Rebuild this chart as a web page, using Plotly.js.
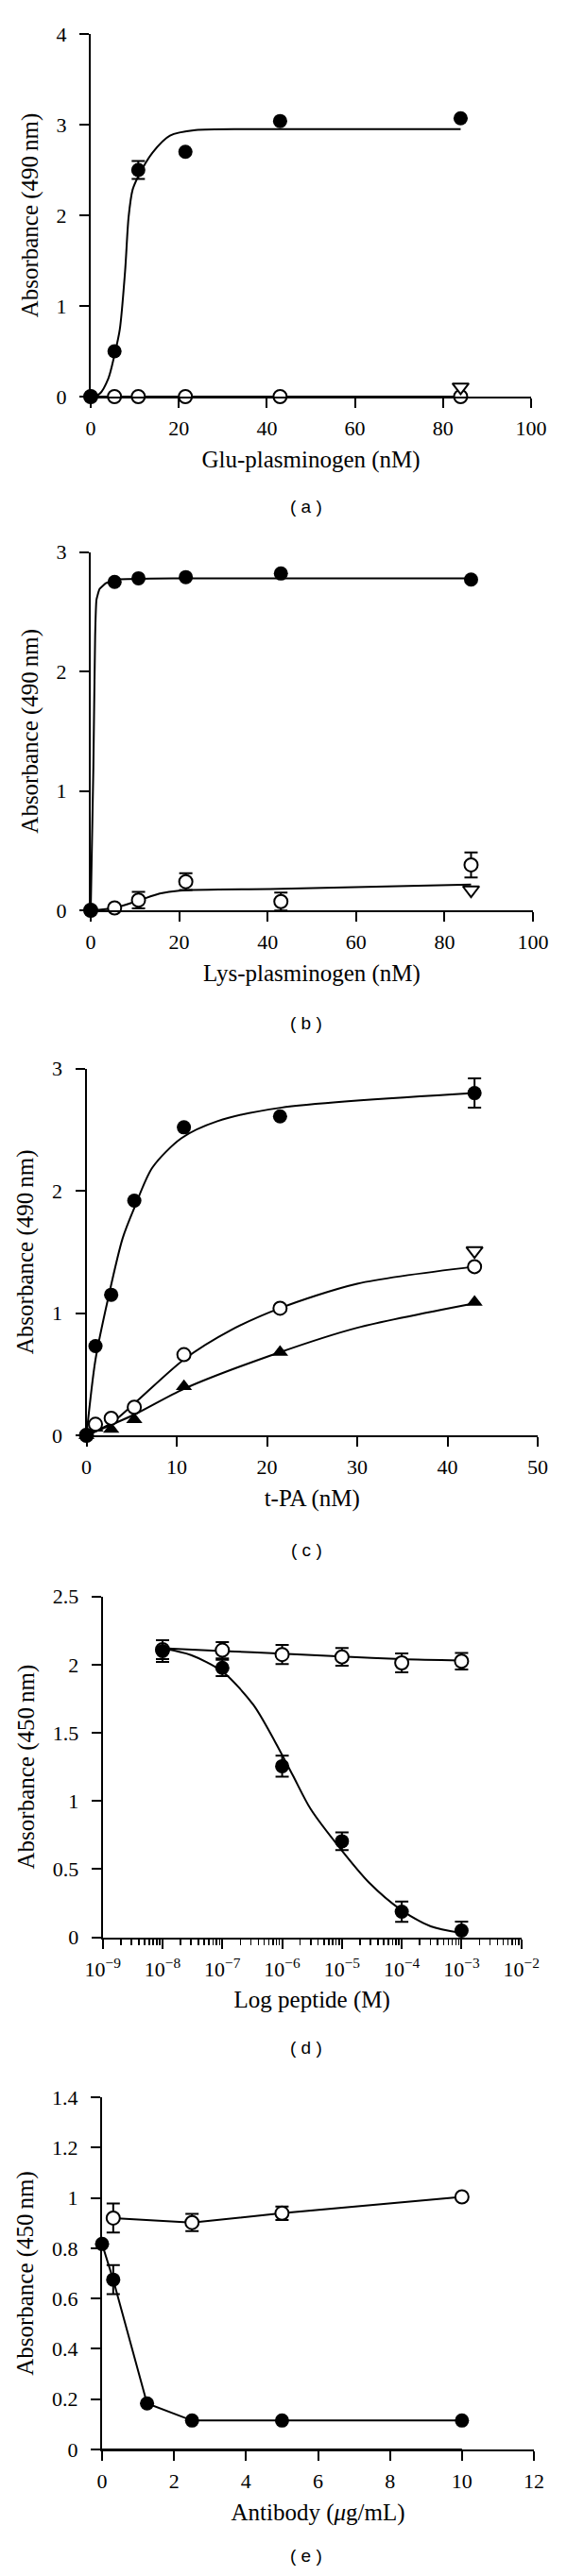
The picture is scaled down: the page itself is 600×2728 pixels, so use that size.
<!DOCTYPE html>
<html>
<head>
<meta charset="utf-8">
<script src="https://cdn.plot.ly/plotly-3.0.1.min.js"></script>
<style>
  html, body { margin: 0; padding: 0; background: #fff; }
  #chart { width: 600px; height: 2728px; }
</style>
</head>
<body>
<div id="chart"></div>
<script>
// ---------------- DATA ----------------
// Panel (a): Glu-plasminogen (nM)
const aX = [0, 5.4, 10.8, 21.5, 43, 84];
const aFilled = [0, 0.5, 2.5, 2.70, 3.04, 3.07];
const aFilledErr = [0, 0, 0.1, 0, 0, 0];
const aOpen = [0, 0, 0, 0, 0, 0];
const aTriX = [84];
const aTri = [0.105];
const aFitX = [0, 2, 4, 5.4, 6.6, 7.8, 8.6, 9.5, 10.8, 14, 18, 23.8, 40, 84];
const aFitY = [0, 0.03, 0.2, 0.46, 0.74, 1.38, 1.98, 2.28, 2.43, 2.69, 2.88, 2.94, 2.95, 2.95];

// Panel (b): Lys-plasminogen (nM)
const bX = [0, 5.4, 10.8, 21.5, 43, 86];
const bFilled = [0, 2.75, 2.78, 2.79, 2.82, 2.77];
const bOpen = [0, 0.02, 0.085, 0.24, 0.073, 0.38];
const bOpenErr = [0, 0, 0.07, 0.07, 0.075, 0.105];
const bTriX = [86];
const bTri = [0.17];
const bFitFX = [0, 0.6, 1.0, 1.3, 2, 3.5, 6, 20, 86];
const bFitFY = [0, 1.2, 2.3, 2.6, 2.69, 2.74, 2.77, 2.78, 2.78];
const bFitOX = [0, 5.4, 10.7, 15.6, 20, 43, 86];
const bFitOY = [0, 0.02, 0.08, 0.14, 0.165, 0.18, 0.215];

// Panel (c): t-PA (nM)
const cX = [0, 1.0, 2.74, 5.3, 10.8, 21.45, 43];
const cFilled = [0, 0.73, 1.15, 1.92, 2.52, 2.61, 2.80];
const cFilledErr = [0, 0, 0, 0, 0, 0, 0.12];
const cOpen = [0, 0.09, 0.14, 0.23, 0.66, 1.04, 1.38];
const cTriUp = [0, 0.06, 0.05, 0.13, 0.40, 0.68, 1.09];
const cTriDownX = [43];
const cTriDown = [1.51];
const cFitFX = [0, 1.0, 2.4, 4.0, 5.3, 7.3, 10.5, 14.5, 21.5, 43];
const cFitFY = [0, 0.62, 1.12, 1.61, 1.86, 2.19, 2.43, 2.57, 2.68, 2.80];
const cFitOX = [0, 2.74, 5.3, 10.8, 16, 21.45, 30, 43];
const cFitOY = [0, 0.1, 0.26, 0.62, 0.86, 1.04, 1.24, 1.38];
const cFitTX = [0, 5.3, 10.8, 21.45, 30, 43];
const cFitTY = [0, 0.17, 0.38, 0.68, 0.88, 1.08];

// Panel (d): Log peptide (M)
const dX = [1e-8, 1e-7, 1e-6, 1e-5, 1e-4, 1e-3];
const dFilled = [2.10, 1.976, 1.255, 0.704, 0.187, 0.049];
const dFilledErr = [0.08, 0.06, 0.077, 0.065, 0.075, 0.065];
const dOpen = [2.11, 2.106, 2.074, 2.057, 2.013, 2.025];
const dOpenErr = [0.07, 0.06, 0.07, 0.065, 0.07, 0.06];
const dFitFX = [1e-8, 3.0e-8, 1e-7, 3.3e-7, 7.6e-7, 1.5e-6, 3.0e-6, 9.5e-6, 2.85e-5, 9.5e-5, 3.05e-4, 9.5e-4];
const dFitFY = [2.12, 2.07, 1.95, 1.705, 1.435, 1.19, 0.94, 0.647, 0.40, 0.204, 0.08, 0.032];
const dFitOX = [1e-8, 1e-7, 1e-6, 1e-5, 1e-4, 1e-3];
const dFitOY = [2.12, 2.10, 2.08, 2.06, 2.04, 2.03];
const dTickVals = [1e-9, 1e-8, 1e-7, 1e-6, 1e-5, 1e-4, 1e-3, 1e-2];
const dTickText = ['10<sup>\u22129</sup>', '10<sup>\u22128</sup>', '10<sup>\u22127</sup>', '10<sup>\u22126</sup>',
                   '10<sup>\u22125</sup>', '10<sup>\u22124</sup>', '10<sup>\u22123</sup>', '10<sup>\u22122</sup>'];

// Panel (e): Antibody (ug/mL)
const eX = [0, 0.31, 1.25, 2.5, 5, 10];
const eFilled = [0.817, 0.675, 0.183, 0.115, 0.115, 0.115];
const eFilledErr = [0, 0.058, 0, 0, 0, 0];
const eOpenX = [0.31, 2.5, 5, 10];
const eOpen = [0.92, 0.902, 0.939, 1.004];
const eOpenErr = [0.058, 0.034, 0.027, 0];
const eBase = [0, 0, 0, 0, 0, 0];

// ---------------- STYLE ----------------
const W = 600, H = 2728;
const SERIF = '"Liberation Serif", "Times New Roman", serif';
const SANS = '"Liberation Sans", Arial, sans-serif';
const TICK = 22, TITLE = 25;
const filled = {symbol: 'circle', size: 15, color: '#000'};
const open = {symbol: 'circle', size: 14, color: '#fff', line: {color: '#000', width: 2}};
const triDown = {symbol: 'triangle-down', size: 15, color: '#fff', line: {color: '#000', width: 2}};
const triUp = {symbol: 'triangle-up', size: 15, color: '#000'};
const curve = {color: '#000', width: 2, shape: 'spline', smoothing: 0.8};
const straight = {color: '#000', width: 2};
function err(arr) { return {type: 'data', array: arr, visible: true, color: '#000', thickness: 2, width: 7}; }

function mk(ax, o) { return Object.assign({xaxis: 'x' + ax, yaxis: 'y' + ax, showlegend: false, cliponaxis: false, hoverinfo: 'skip'}, o); }

const traces = [
  // (a)
  mk('', {x: aFitX, y: aFitY, mode: 'lines', line: curve}),
  mk('', {x: aX, y: aOpen, mode: 'lines+markers', line: straight, marker: open}),
  mk('', {x: aX, y: aFilled, mode: 'markers', marker: filled, error_y: err(aFilledErr)}),
  mk('', {x: aTriX, y: aTri, mode: 'markers', marker: triDown}),
  // (b)
  mk('2', {x: bFitFX, y: bFitFY, mode: 'lines', line: Object.assign({}, curve, {smoothing: 0.4})}),
  mk('2', {x: bFitOX, y: bFitOY, mode: 'lines', line: curve}),
  mk('2', {x: bX, y: bOpen, mode: 'markers', marker: open, error_y: err(bOpenErr)}),
  mk('2', {x: bX, y: bFilled, mode: 'markers', marker: filled}),
  mk('2', {x: bTriX, y: bTri, mode: 'markers', marker: triDown}),
  // (c)
  mk('3', {x: cFitFX, y: cFitFY, mode: 'lines', line: curve}),
  mk('3', {x: cFitOX, y: cFitOY, mode: 'lines', line: curve}),
  mk('3', {x: cFitTX, y: cFitTY, mode: 'lines', line: curve}),
  mk('3', {x: cX, y: cTriUp, mode: 'markers', marker: triUp}),
  mk('3', {x: cX, y: cOpen, mode: 'markers', marker: open}),
  mk('3', {x: cX, y: cFilled, mode: 'markers', marker: filled, error_y: err(cFilledErr)}),
  mk('3', {x: cTriDownX, y: cTriDown, mode: 'markers', marker: triDown}),
  // (d)
  mk('4', {x: dFitOX, y: dFitOY, mode: 'lines', line: curve}),
  mk('4', {x: dFitFX, y: dFitFY, mode: 'lines', line: curve}),
  mk('4', {x: dX, y: dOpen, mode: 'markers', marker: open, error_y: err(dOpenErr)}),
  mk('4', {x: dX, y: dFilled, mode: 'markers', marker: filled, error_y: err(dFilledErr)}),
  // (e)
  mk('5', {x: eX, y: eBase, mode: 'lines', line: {color: '#000', width: 2}}),
  mk('5', {x: eOpenX, y: eOpen, mode: 'lines+markers', line: straight, marker: open, error_y: err(eOpenErr)}),
  mk('5', {x: eX, y: eFilled, mode: 'lines+markers', line: straight, marker: filled, error_y: err(eFilledErr)}),
];

function xd(l, r) { return [l / W, r / W]; }
function yd(bot, top) { return [1 - bot / H, 1 - top / H]; }

function axisBase() {
  return {
    showline: true, linecolor: '#000', linewidth: 2, mirror: false,
    ticks: 'outside', ticklen: 10, tickwidth: 2, tickcolor: '#000',
    showgrid: false, zeroline: false, fixedrange: true,
    tickfont: {family: SERIF, size: TICK, color: '#000'},
  };
}
function xa(dom, range, dtick, title, anchor, extra) {
  return Object.assign(axisBase(), {domain: dom, range: range, dtick: dtick, tick0: 0, anchor: anchor,
    ticklabelstandoff: 3,
    title: {text: title, font: {family: SERIF, size: TITLE, color: '#000'}, standoff: 12}}, extra || {});
}
function ya(dom, range, dtick, title, anchor) {
  return Object.assign(axisBase(), {domain: dom, range: range, dtick: dtick, tick0: 0, anchor: anchor,
    ticklabelstandoff: 9,
    title: {text: title, font: {family: SERIF, size: TITLE, color: '#000'}, standoff: 12}});
}

const yT490 = 'Absorbance (490\u2009nm)';
const yT450 = 'Absorbance (450\u2009nm)';

const layout = {
  width: W, height: H,
  margin: {l: 0, r: 0, t: 0, b: 0},
  paper_bgcolor: '#fff', plot_bgcolor: '#fff',
  showlegend: false,
  font: {family: SERIF, size: TICK, color: '#000'},
  xaxis:  xa(xd(96, 562), [0, 100], 20, 'Glu-plasminogen (nM)', 'y'),
  yaxis:  ya(yd(420, 36), [0, 4], 1, yT490, 'x'),
  xaxis2: xa(xd(96, 564), [0, 100], 20, 'Lys-plasminogen (nM)', 'y2'),
  yaxis2: ya(yd(964, 584.6), [0, 3], 1, yT490, 'x2'),
  xaxis3: xa(xd(91.5, 569), [0, 50], 10, 't-PA (nM)', 'y3'),
  yaxis3: ya(yd(1520, 1131.7), [0, 3], 1, yT490, 'x3'),
  xaxis4: xa(xd(108.7, 551.7), [-9, -2], null, 'Log peptide (M)', 'y4',
             {type: 'log', tickmode: 'array', tickvals: dTickVals, ticktext: dTickText,
              minor: {ticks: 'outside', ticklen: 6, tickwidth: 1.5, tickcolor: '#000', dtick: 'D1'}}),
  yaxis4: ya(yd(2051.5, 1690.7), [0, 2.5], 0.5, yT450, 'x4'),
  xaxis5: xa(xd(108, 565), [0, 12], 2, 'Antibody (<i>\u03bc</i>g/mL)', 'y5'),
  yaxis5: ya(yd(2594, 2221), [0, 1.4], 0.2, yT450, 'x5'),
  annotations: [
    ['( a )', 536], ['( b )', 1083], ['( c )', 1641], ['( d )', 2168], ['( e )', 2706]
  ].map(([t, py]) => ({text: t, xref: 'paper', yref: 'paper', x: 324 / W, y: 1 - py / H,
      xanchor: 'center', yanchor: 'middle', showarrow: false,
      font: {family: SANS, size: 19, color: '#000'}})),
};

Plotly.newPlot('chart', traces, layout, {staticPlot: true, displayModeBar: false});
</script>
</body>
</html>
